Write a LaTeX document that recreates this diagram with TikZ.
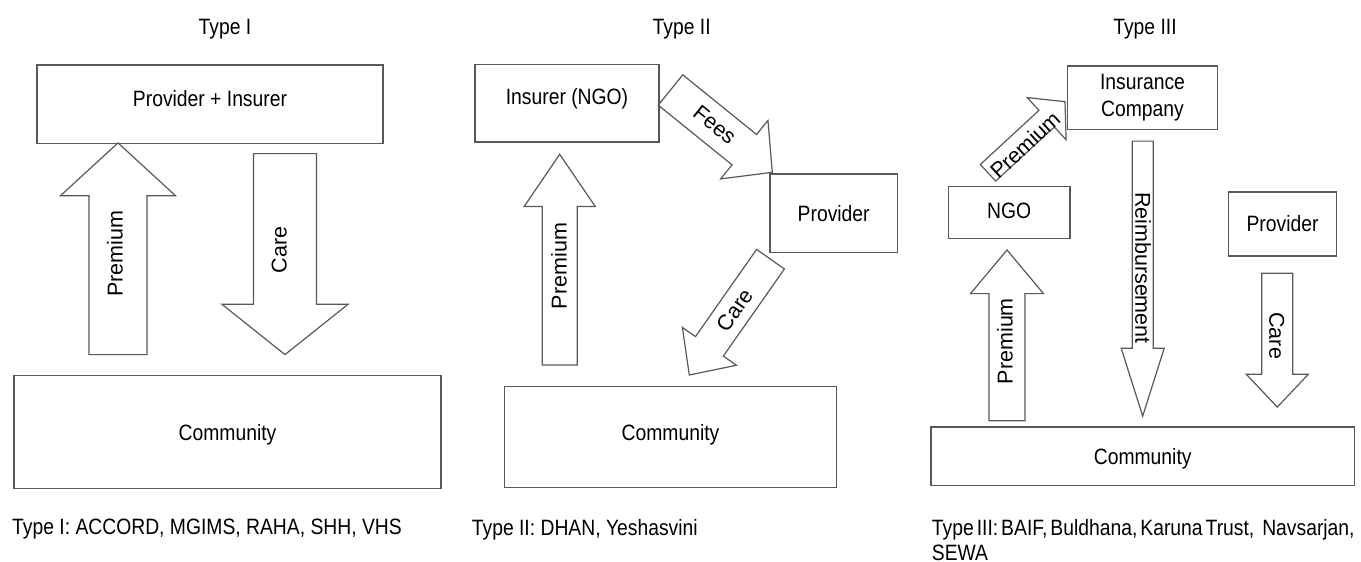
\documentclass[tikz,border=0pt]{standalone}
\usepackage{fontspec}
\setmainfont{Liberation Sans}[FakeStretch=0.87]
\newfontfamily\rotfont{Liberation Sans}
\usetikzlibrary{calc}

% block arrow: tail, tip, half shaft, half head, head length
\newcommand\fatarrow[5]{%
  \coordinate (hb) at ($(#2)!#5!(#1)$);
  \draw [fat] ($(#1)!#3!90:(#2)$) -- ($(hb)!#3!90:(#2)$) -- ($(hb)!#4!90:(#2)$) -- (#2)
    -- ($(hb)!#4!-90:(#2)$) -- ($(hb)!#3!-90:(#2)$) -- ($(#1)!#3!-90:(#2)$) -- cycle;
}

\begin{document}
\begin{tikzpicture}[x=1pt,y=-1pt,
    font=\fontsize{22.2}{25}\selectfont,
    frame/.style={draw=black!65,line width=1.3pt,inner sep=0pt},
    box/.style={frame,text height=16pt,text depth=#1},
    box/.default=0pt,
    fat/.style={draw=black!65,line width=1.2pt,line join=miter},
    txt/.style={inner sep=0pt,text height=16pt,text depth=0pt},
    lbl/.style={inner sep=0pt,text height=15.4pt,text depth=0pt,font=\rotfont\fontsize{21.5}{25}\selectfont,rotate=#1}]

    \useasboundingbox [fill=white] (0,0) rectangle (1361,562);

    %Type I
    \node [txt] (t1) at (225,26.8) {Type I};
    \node [box=12.2pt,minimum width=346pt,minimum height=78.6pt] (pi) at (210,104.3) {Provider + Insurer};
    \node [box,minimum width=427pt,minimum height=112.9pt] (ci) at (227.5,432.1) {Community};
    \node [txt,anchor=west] (capi) at (12,526.8) {Type I: ACCORD, MGIMS, RAHA, SHH, VHS};

        \coordinate (pre1a) at (118,354.6);
        \coordinate (pre1b) at (118,142.9);
        \fatarrow{pre1a}{pre1b}{29pt}{57.5pt}{52.8pt}
        \node [lbl=90] (pre1) at (115,253.6) {Premium};

        \coordinate (care1a) at (285,153.6);
        \coordinate (care1b) at (285,354.6);
        \fatarrow{care1a}{care1b}{31.5pt}{63pt}{50.3pt}
        \node [lbl=90] (care1) at (279,250) {Care};

    %Type II
    \node [txt] (t2) at (681.7,26.8) {Type II};
    \node [box=13.6pt,minimum width=184pt,minimum height=77.8pt] (ii) at (567,103.2) {Insurer (NGO)};
    \node [box,minimum width=127.3pt,minimum height=78.6pt] (pii) at (833.7,213.2) {Provider};
    \node [box=8.4pt,minimum width=332.4pt,minimum height=100.7pt] (cii) at (670.5,437.1) {Community};
    \node [txt,anchor=west] (capii) at (471.7,527.9) {Type II: DHAN, Yeshasvini};

        \coordinate (pre2a) at (559.7,365);
        \coordinate (pre2b) at (559.7,154.3);
        \fatarrow{pre2a}{pre2b}{17.5pt}{35.5pt}{52.1pt}
        \node [lbl=90] (pre2) at (559,266) {Premium};

        \coordinate (feesa) at (670.5,90);
        \coordinate (feesb) at (772.3,172.3);
        \fatarrow{feesa}{feesb}{19.5pt}{37.6pt}{36pt}
        \node [lbl=-38.9] (fees) at (715,124.3) {Fees};

        \coordinate (care2a) at (770.5,259.2);
        \coordinate (care2b) at (689.3,375);
        \fatarrow{care2a}{care2b}{17pt}{33pt}{35pt}
        \node [lbl=55] (care2) at (735,310) {Care};

    %Type III
    \node [txt] (t3) at (1145,26.8) {Type III};
    \node [frame,minimum width=150.4pt,minimum height=63.2pt,align=center,font=\fontsize{22.2}{27.5}\selectfont] (ic) at (1142.5,97.7) {Insurance\\Company};
    \node [box=5pt,minimum width=121.7pt,minimum height=52.2pt] (ngo) at (1009.2,212.5) {NGO};
    \node [box=2pt,minimum width=108.4pt,minimum height=64pt] (piii) at (1282.5,224.1) {Provider};
    \node [box,minimum width=423.3pt,minimum height=58.9pt] (ciii) at (1142.7,456.3) {Community};
    \node [inner sep=0pt,anchor=north west,align=left] (capiii) at (931.7,518.8) {\spaceskip=3pt Type III: BAIF, Buldhana, Karuna Trust,\hspace{8pt}Navsarjan,\\SEWA};

        \coordinate (prengoa) at (988,172.8);
        \coordinate (prengob) at (1065,101.7);
        \fatarrow{prengoa}{prengob}{11.3pt}{28.7pt}{25pt}
        \node [lbl=42.7] (prengo) at (1025,145) {Premium};

        \coordinate (pre3a) at (1007,420.7);
        \coordinate (pre3b) at (1007,250);
        \fatarrow{pre3a}{pre3b}{18pt}{36.5pt}{43.6pt}
        \node [lbl=90] (pre3) at (1005,341.1) {Premium};

        \coordinate (reima) at (1142.7,141.1);
        \coordinate (reimb) at (1142.7,416.1);
        \fatarrow{reima}{reimb}{10.5pt}{21.5pt}{67.9pt}
        \node [lbl=-90] (reim) at (1143,267.9) {Reimbursement};

        \coordinate (care3a) at (1277.3,273.2);
        \coordinate (care3b) at (1277.3,407.1);
        \fatarrow{care3a}{care3b}{15.5pt}{31pt}{32.8pt}
        \node [lbl=-90] (care3) at (1277,335.7) {Care};
\end{tikzpicture}
\end{document}
